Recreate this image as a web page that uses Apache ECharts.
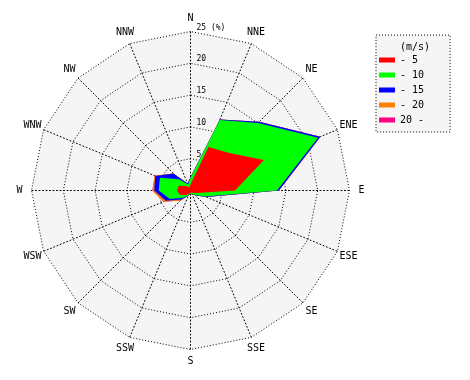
<!DOCTYPE html>
<html>
<head>
<meta charset="utf-8">
<script src="https://cdn.jsdelivr.net/npm/echarts@6/dist/echarts.min.js"></script>
<style>
html,body{margin:0;padding:0;background:#fff;}
#chart{width:470px;height:380px;}
</style>
</head>
<body>
<div id="chart"></div>
<script>
// Directions (clockwise from North)
const directions = ['N','NNE','NE','ENE','E','ESE','SE','SSE','S','SSW','SW','WSW','W','WNW','NW','NNW'];
// Speed classes (m/s)
const speedClasses = ['- 5','- 10','- 15','- 20','20 -'];
const classColors = ['#ff0000','#00ff00','#0000ff','#ff8000','#ff0080'];
// Frequency (%) per direction for each speed class
const speed5   = [1.0, 7.4, 8.4, 12.5, 7.0, 1.0, 0.5, 0.3, 0.4, 0.6, 1.0, 1.8, 2.1, 2.0, 1.0, 0.5];
const speed10  = [1.0, 4.6, 6.6, 9.2, 6.6, 1.5, 0.5, 0.2, 0.1, 0.2, 0.6, 1.7, 2.9, 3.2, 1.5, 0.5];
const speed15  = [0.1, 0.1, 0.3, 0.4, 0.3, 0.2, 0.1, 0.0, 0.0, 0.1, 0.4, 0.7, 0.7, 0.8, 1.3, 0.2];
const speed20  = [0.0, 0.0, 0.0, 0.0, 0.0, 0.0, 0.0, 0.0, 0.0, 0.0, 0.2, 0.4, 0.3, 0.1, 0.0, 0.0];
const speed20p = [0.0, 0.0, 0.0, 0.0, 0.0, 0.0, 0.0, 0.0, 0.0, 0.0, 0.0, 0.0, 0.0, 0.0, 0.0, 0.0];
// Radial axis ticks (%)
const radialMax = 25;
const radialTicks = [0, 5, 10, 15, 20, 25];

const classes = [speed5, speed10, speed15, speed20, speed20p];
// cumulative sums
const cumulative = [];
let run = directions.map(() => 0);
classes.forEach(arr => {
  run = run.map((v, i) => v + arr[i]);
  cumulative.push(run.slice());
});
// radar lays out counter-clockwise: reorder to clockwise
const order = [0];
for (let i = directions.length - 1; i >= 1; i--) order.push(i);

const FONT = 'DejaVu Sans Mono';
const indicator = order.map((idx, k) => {
  const ind = { name: directions[idx], max: radialMax, min: 0 };
  if (k === 0) {
    ind.axisLabel = {
      show: true,
      fontSize: 8,
      fontFamily: FONT,
      color: '#000',
      margin: -6,
      align: 'left',
      verticalAlign: 'bottom',
      formatter: v => (v === radialMax ? v + ' (%)' : String(v))
    };
  }
  return ind;
});

const series = [];
for (let c = classes.length - 1; c >= 0; c--) {
  series.push({
    type: 'radar',
    name: speedClasses[c],
    symbol: 'none',
    silent: true,
    z: 2 + (classes.length - c),
    itemStyle: { color: classColors[c] },
    lineStyle: { width: 0, opacity: 0 },
    areaStyle: { color: classColors[c], opacity: 1 },
    data: [{ name: speedClasses[c], value: order.map(i => cumulative[c][i]) }]
  });
}

const chart = echarts.init(document.getElementById('chart'), null, { renderer: 'canvas' });
chart.setOption({
  animation: false,
  backgroundColor: '#ffffff',
  title: {
    text: '(m/s)',
    left: 395,
    top: 37,
    z: 10,
    textStyle: { fontSize: 10, fontWeight: 'normal', fontFamily: FONT, color: '#000' }
  },
  legend: {
    orient: 'vertical',
    left: 376,
    top: 35,
    data: speedClasses,
    icon: 'rect',
    itemWidth: 16,
    itemHeight: 5,
    itemGap: 3,
    padding: [19, 26, 6, 3],
    backgroundColor: '#f5f5f5',
    borderColor: '#000',
    borderWidth: 1,
    borderType: [1, 2],
    selectedMode: false,
    textStyle: { fontSize: 10, fontFamily: FONT, color: '#000', lineHeight: 12 }
  },
  radar: {
    center: [190.5, 190.5],
    radius: 159,
    startAngle: 90,
    shape: 'polygon',
    splitNumber: 5,
    indicator: indicator,
    axisName: { color: '#000', fontSize: 10, fontFamily: FONT, align: 'center', verticalAlign: 'middle' },
    nameGap: 12,
    axisLabel: { show: false },
    axisTick: { show: false },
    axisLine: { lineStyle: { color: '#000', width: 1, type: [1, 2.5] } },
    splitLine: { lineStyle: { color: '#000', width: 1, type: [1, 2] } },
    splitArea: { show: true, areaStyle: { color: ['#f5f5f5'] } }
  },
  series: series
});
</script>
</body>
</html>
